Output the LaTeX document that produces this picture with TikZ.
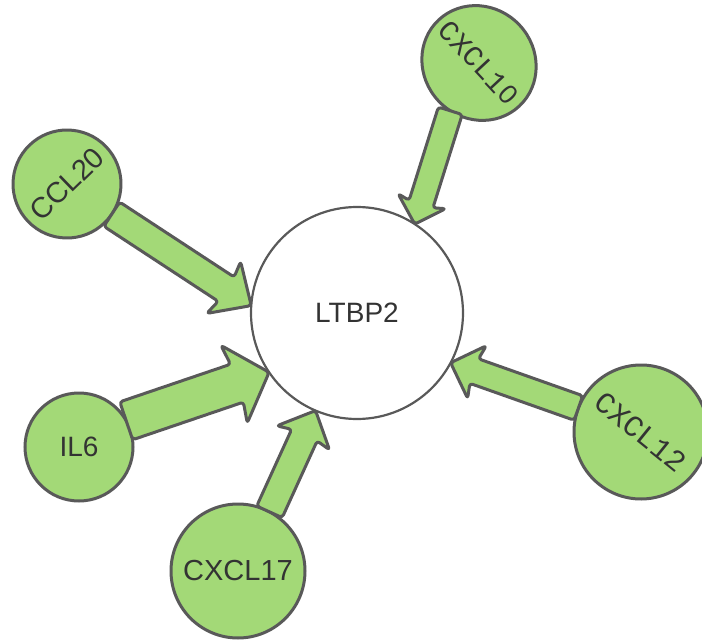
\documentclass[tikz,border=0pt]{standalone}
\usepackage{fontspec}
\setmainfont{Liberation Sans}
\newfontfamily\monof{Liberation Mono}
\newfontfamily\plainf{Liberation Sans}
\usetikzlibrary{calc,shapes.geometric}
\definecolor{leaf}{RGB}{163,217,119}
\definecolor{rim}{RGB}{89,89,89}
\definecolor{ink}{RGB}{51,51,51}
% #1 tail, #2 tip, #3 shaft half width, #4 head half width, #5 head length, #6 barb distance
\newcommand\blockarrow[6]{%
  \draw[flowarrow]
    ($(#1)!#3!90:(#2)$) --
    ($(#2)!#5!(#1)!#3!-90:(#1)$) --
    ($(#2)!#6!(#1)!#4!-90:(#1)$) --
    (#2) --
    ($(#2)!#6!(#1)!#4!90:(#1)$) --
    ($(#2)!#5!(#1)!#3!90:(#1)$) --
    ($(#1)!#3!-90:(#2)$) -- cycle;}
% plain (undotted) zero with a monospaced advance
\newcommand\plainzero{\makebox[0.6em]{\plainf\fontsize{0.93em}{1em}\selectfont 0}}
\begin{document}
\begin{tikzpicture}[x=1pt,y=-1pt,
  bubble/.style={circle, draw=rim, fill=leaf, line width=3pt, text=ink, inner sep=0pt, outer sep=0pt, font=\fontsize{28}{33}\selectfont},
  hub/.style={circle, draw=rim, fill=white, line width=2.2pt, text=ink, inner sep=0pt, outer sep=0pt, minimum size=212pt, font=\fontsize{28}{33}\selectfont},
  flowarrow/.style={draw=rim, fill=leaf, line width=3pt, line join=round, rounded corners=3pt}]
\useasboundingbox (0,0) rectangle (702,642);
\clip (0,0) rectangle (702,642);
\node[hub] (ltbp2) at (357,313) {LTBP2};
\node[bubble, minimum size=108pt, rotate=44, font=\fontsize{29}{34}\selectfont] (ccl20) at (67,184) {CCL20};
\node[bubble, ellipse, inner xsep=-25pt, minimum width=118pt, minimum height=111pt, rotate=-47, font=\monof\fontsize{29}{34}\selectfont] (cxcl10) at (479,63) {CXCL1\plainzero};
\node[bubble, minimum size=108pt] (il6) at (79,447) {IL6};
\node[bubble, minimum size=134pt, font=\fontsize{29}{34}\selectfont] (cxcl17) at (238,571) {CXCL17};
\node[bubble, minimum size=134pt, rotate=-39, font=\monof\fontsize{30}{35}\selectfont] (cxcl12) at (641,432) {CXCL12};
\blockarrow{ccl20.-78}{ltbp2.176}{14.5pt}{31pt}{30pt}{33pt}
\blockarrow{cxcl10.-74}{ltbp2.57}{12.5pt}{25pt}{21pt}{24pt}
\blockarrow{il6.29}{ltbp2.214}{20pt}{41pt}{34pt}{37pt}
\blockarrow{cxcl17.62}{ltbp2.247}{14pt}{29pt}{27pt}{30pt}
\blockarrow{cxcl12.198}{ltbp2.332}{13pt}{28pt}{25pt}{28pt}
\end{tikzpicture}
\end{document}
